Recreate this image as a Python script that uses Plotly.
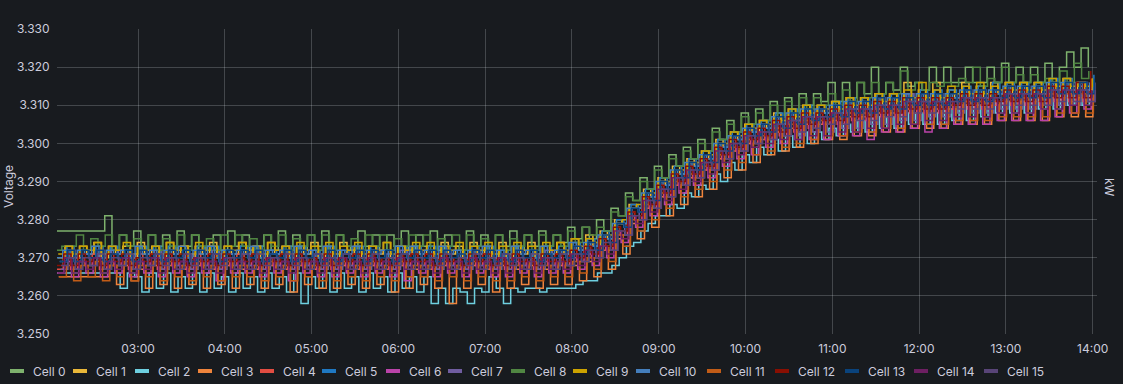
import pandas as pd
import plotly.graph_objects as go

# ---- data (cell voltages in mV, one sample every 5 minutes per cell) ----
CELL_0 = [3277, 3277,
    3277, 3277, 3277, 3277, 3277, 3281, 3272, 3276, 3273, 3277, 3272, 3276,
    3273, 3276, 3272, 3277, 3273, 3276, 3272, 3273, 3276, 3272, 3277, 3273,
    3276, 3272, 3273, 3276, 3272, 3277, 3273, 3276, 3272, 3276, 3273, 3277,
    3272, 3276, 3273, 3272, 3277, 3273, 3276, 3272, 3276, 3273, 3277, 3272,
    3276, 3273, 3277, 3272, 3276, 3273, 3272, 3277, 3273, 3276, 3272, 3276,
    3273, 3277, 3272, 3276, 3273, 3277, 3273, 3276, 3274, 3278, 3275, 3278,
    3275, 3280, 3277, 3283, 3281, 3287, 3285, 3291, 3288, 3294, 3291, 3297,
    3294, 3299, 3296, 3301, 3298, 3304, 3301, 3306, 3303, 3308, 3305, 3309,
    3306, 3311, 3307, 3312, 3308, 3313, 3310, 3313, 3311, 3316, 3311, 3316,
    3312, 3316, 3313, 3320, 3313, 3316, 3314, 3320, 3315, 3316, 3314, 3320,
    3316, 3320, 3316, 3316, 3320, 3316, 3316, 3320, 3316, 3321, 3316, 3320,
    3316, 3320, 3316, 3321, 3316, 3320, 3324, 3320, 3325, 3320]
CELL_1 = [3270, 3273,
    3270, 3273, 3271, 3274, 3270, 3273, 3271, 3273, 3270, 3274, 3271, 3273,
    3270, 3274, 3271, 3273, 3270, 3273, 3271, 3274, 3270, 3273, 3271, 3274,
    3271, 3273, 3270, 3274, 3271, 3273, 3270, 3273, 3271, 3274, 3270, 3273,
    3270, 3274, 3271, 3273, 3270, 3273, 3271, 3274, 3270, 3273, 3271, 3273,
    3271, 3273, 3270, 3274, 3271, 3273, 3270, 3274, 3271, 3273, 3270, 3274,
    3270, 3273, 3271, 3274, 3270, 3273, 3271, 3274, 3271, 3275, 3272, 3276,
    3273, 3277, 3275, 3280, 3279, 3284, 3283, 3288, 3286, 3291, 3289, 3294,
    3292, 3296, 3294, 3298, 3296, 3301, 3299, 3303, 3301, 3305, 3303, 3306,
    3304, 3308, 3305, 3309, 3306, 3310, 3307, 3310, 3308, 3311, 3308, 3312,
    3309, 3312, 3309, 3313, 3310, 3313, 3310, 3316, 3311, 3314, 3311, 3316,
    3311, 3314, 3312, 3316, 3312, 3315, 3312, 3316, 3313, 3316, 3313, 3316,
    3313, 3316, 3313, 3316, 3314, 3317, 3314, 3316, 3314, 3317]
CELL_2 = [3266, 3266,
    3266, 3266, 3266, 3266, 3266, 3266, 3266, 3262, 3266, 3265, 3261, 3266,
    3262, 3266, 3261, 3265, 3262, 3266, 3261, 3266, 3262, 3265, 3261, 3266,
    3262, 3265, 3261, 3266, 3262, 3265, 3261, 3266, 3258, 3265, 3262, 3266,
    3261, 3266, 3262, 3265, 3261, 3266, 3262, 3265, 3261, 3266, 3262, 3265,
    3261, 3265, 3258, 3262, 3258, 3262, 3261, 3258, 3262, 3261, 3265, 3262,
    3258, 3262, 3261, 3262, 3262, 3261, 3262, 3262, 3262, 3262, 3263, 3264,
    3264, 3266, 3266, 3268, 3270, 3273, 3274, 3277, 3279, 3281, 3281, 3284,
    3283, 3287, 3286, 3289, 3288, 3292, 3290, 3295, 3293, 3297, 3295, 3299,
    3297, 3301, 3298, 3302, 3299, 3303, 3300, 3303, 3301, 3304, 3302, 3305,
    3303, 3306, 3303, 3307, 3304, 3307, 3304, 3308, 3305, 3308, 3305, 3308,
    3305, 3309, 3306, 3310, 3306, 3310, 3307, 3311, 3308, 3311, 3308, 3311,
    3308, 3312, 3309, 3312, 3309, 3313, 3310, 3313, 3310, 3313]
CELL_3 = [3265, 3265,
    3265, 3265, 3265, 3265, 3265, 3268, 3263, 3268, 3264, 3267, 3262, 3268,
    3263, 3268, 3262, 3267, 3263, 3268, 3262, 3267, 3263, 3268, 3262, 3267,
    3263, 3267, 3262, 3268, 3263, 3267, 3261, 3268, 3263, 3267, 3262, 3268,
    3262, 3268, 3263, 3267, 3262, 3268, 3263, 3267, 3261, 3268, 3262, 3267,
    3263, 3267, 3262, 3268, 3258, 3267, 3262, 3268, 3263, 3267, 3261, 3268,
    3262, 3267, 3263, 3268, 3262, 3267, 3263, 3268, 3263, 3268, 3264, 3269,
    3265, 3272, 3267, 3275, 3271, 3279, 3275, 3283, 3278, 3286, 3281, 3289,
    3284, 3291, 3286, 3293, 3288, 3296, 3291, 3298, 3293, 3300, 3295, 3301,
    3297, 3303, 3298, 3304, 3299, 3305, 3300, 3305, 3301, 3306, 3301, 3307,
    3302, 3307, 3302, 3308, 3303, 3308, 3303, 3309, 3304, 3309, 3304, 3309,
    3304, 3309, 3305, 3310, 3305, 3310, 3305, 3310, 3306, 3311, 3306, 3311,
    3306, 3311, 3306, 3312, 3307, 3312, 3307, 3312, 3307, 3312]
CELL_4 = [3267, 3271,
    3267, 3270, 3268, 3271, 3267, 3271, 3268, 3270, 3267, 3271, 3268, 3271,
    3267, 3271, 3268, 3270, 3267, 3271, 3268, 3271, 3267, 3270, 3268, 3271,
    3268, 3271, 3267, 3270, 3268, 3271, 3267, 3271, 3268, 3270, 3267, 3271,
    3267, 3270, 3268, 3271, 3267, 3271, 3268, 3270, 3267, 3271, 3268, 3271,
    3268, 3271, 3267, 3271, 3268, 3270, 3267, 3271, 3268, 3271, 3267, 3270,
    3267, 3271, 3268, 3270, 3267, 3271, 3268, 3271, 3268, 3272, 3269, 3273,
    3270, 3275, 3272, 3278, 3276, 3282, 3280, 3286, 3283, 3289, 3286, 3292,
    3289, 3294, 3291, 3296, 3293, 3299, 3296, 3301, 3298, 3303, 3300, 3304,
    3301, 3306, 3302, 3307, 3303, 3308, 3304, 3308, 3305, 3309, 3305, 3310,
    3306, 3310, 3306, 3311, 3307, 3311, 3307, 3312, 3308, 3312, 3308, 3312,
    3308, 3312, 3309, 3313, 3309, 3313, 3309, 3313, 3310, 3314, 3310, 3314,
    3310, 3314, 3310, 3315, 3311, 3315, 3311, 3315, 3311, 3316]
CELL_5 = [3269, 3273,
    3269, 3272, 3270, 3273, 3269, 3273, 3270, 3272, 3269, 3273, 3270, 3273,
    3269, 3273, 3270, 3272, 3269, 3273, 3270, 3273, 3269, 3272, 3270, 3273,
    3270, 3273, 3269, 3272, 3270, 3273, 3269, 3273, 3270, 3272, 3269, 3273,
    3269, 3272, 3270, 3273, 3269, 3273, 3270, 3272, 3269, 3273, 3270, 3273,
    3270, 3273, 3269, 3273, 3270, 3272, 3269, 3273, 3270, 3273, 3269, 3272,
    3269, 3273, 3270, 3272, 3269, 3273, 3270, 3273, 3270, 3274, 3271, 3275,
    3272, 3277, 3274, 3280, 3278, 3284, 3282, 3288, 3285, 3291, 3288, 3294,
    3291, 3296, 3293, 3298, 3295, 3301, 3298, 3303, 3300, 3305, 3302, 3306,
    3303, 3308, 3304, 3309, 3305, 3310, 3306, 3310, 3307, 3311, 3307, 3312,
    3308, 3312, 3308, 3313, 3309, 3313, 3309, 3313, 3310, 3314, 3310, 3314,
    3310, 3314, 3311, 3315, 3311, 3315, 3311, 3316, 3312, 3316, 3312, 3316,
    3312, 3316, 3312, 3317, 3313, 3317, 3313, 3316, 3313, 3318]
CELL_6 = [3266, 3269,
    3265, 3269, 3266, 3270, 3265, 3269, 3266, 3270, 3265, 3269, 3266, 3270,
    3265, 3270, 3266, 3269, 3265, 3270, 3266, 3269, 3264, 3270, 3266, 3269,
    3266, 3269, 3265, 3270, 3266, 3269, 3264, 3270, 3266, 3269, 3265, 3270,
    3265, 3270, 3266, 3269, 3265, 3270, 3266, 3269, 3265, 3270, 3264, 3269,
    3266, 3269, 3265, 3270, 3266, 3269, 3265, 3270, 3266, 3269, 3265, 3270,
    3265, 3269, 3266, 3270, 3265, 3269, 3266, 3270, 3266, 3270, 3267, 3271,
    3268, 3273, 3270, 3277, 3274, 3281, 3278, 3285, 3281, 3288, 3284, 3291,
    3287, 3293, 3289, 3295, 3291, 3298, 3294, 3300, 3296, 3302, 3297, 3303,
    3299, 3304, 3300, 3306, 3301, 3307, 3301, 3307, 3301, 3308, 3302, 3308,
    3302, 3308, 3301, 3309, 3303, 3309, 3303, 3310, 3304, 3310, 3303, 3310,
    3304, 3310, 3305, 3311, 3305, 3311, 3305, 3311, 3306, 3312, 3306, 3312,
    3306, 3312, 3306, 3313, 3307, 3313, 3308, 3313, 3309, 3313]
CELL_7 = [3267, 3272,
    3267, 3271, 3268, 3272, 3267, 3272, 3268, 3271, 3267, 3272, 3268, 3272,
    3267, 3272, 3268, 3271, 3267, 3272, 3268, 3272, 3267, 3271, 3268, 3272,
    3268, 3272, 3267, 3271, 3268, 3272, 3267, 3272, 3268, 3271, 3267, 3272,
    3267, 3271, 3268, 3272, 3267, 3272, 3268, 3271, 3267, 3272, 3268, 3272,
    3268, 3272, 3267, 3272, 3268, 3271, 3267, 3272, 3268, 3272, 3267, 3271,
    3267, 3272, 3268, 3271, 3267, 3272, 3268, 3272, 3268, 3273, 3269, 3274,
    3270, 3276, 3272, 3279, 3276, 3283, 3280, 3287, 3283, 3290, 3286, 3293,
    3289, 3295, 3291, 3297, 3293, 3300, 3296, 3302, 3298, 3304, 3300, 3305,
    3301, 3307, 3302, 3308, 3302, 3309, 3303, 3309, 3303, 3310, 3304, 3311,
    3304, 3311, 3305, 3312, 3305, 3312, 3306, 3313, 3306, 3313, 3307, 3313,
    3307, 3313, 3308, 3314, 3308, 3314, 3308, 3314, 3309, 3315, 3309, 3315,
    3309, 3315, 3310, 3316, 3310, 3316, 3310, 3316, 3311, 3316]
CELL_8 = [3272, 3273,
    3273, 3276, 3272, 3275, 3273, 3276, 3272, 3276, 3273, 3275, 3272, 3276,
    3272, 3275, 3273, 3276, 3272, 3276, 3273, 3275, 3272, 3276, 3273, 3276,
    3273, 3275, 3272, 3276, 3273, 3276, 3272, 3275, 3273, 3276, 3272, 3276,
    3272, 3276, 3273, 3275, 3272, 3276, 3273, 3276, 3272, 3275, 3273, 3276,
    3273, 3276, 3272, 3275, 3273, 3276, 3272, 3276, 3273, 3275, 3272, 3276,
    3272, 3275, 3273, 3276, 3272, 3276, 3273, 3276, 3273, 3277, 3274, 3278,
    3276, 3278, 3277, 3282, 3281, 3286, 3285, 3290, 3288, 3293, 3291, 3296,
    3294, 3298, 3296, 3300, 3298, 3303, 3301, 3305, 3303, 3307, 3305, 3308,
    3306, 3310, 3307, 3311, 3308, 3312, 3309, 3312, 3310, 3313, 3310, 3314,
    3311, 3316, 3312, 3316, 3313, 3316, 3313, 3319, 3314, 3316, 3314, 3316,
    3315, 3316, 3315, 3317, 3316, 3320, 3315, 3317, 3316, 3320, 3316, 3318,
    3316, 3318, 3316, 3317, 3316, 3319, 3316, 3321, 3317, 3319]
CELL_9 = [3271, 3273,
    3271, 3273, 3272, 3274, 3271, 3273, 3272, 3274, 3271, 3273, 3272, 3273,
    3271, 3274, 3272, 3273, 3271, 3274, 3272, 3273, 3271, 3273, 3272, 3274,
    3272, 3273, 3271, 3274, 3272, 3273, 3271, 3274, 3272, 3273, 3271, 3274,
    3271, 3273, 3272, 3274, 3271, 3273, 3272, 3274, 3271, 3273, 3272, 3274,
    3272, 3274, 3271, 3273, 3272, 3274, 3271, 3273, 3272, 3274, 3271, 3273,
    3271, 3274, 3272, 3273, 3271, 3274, 3272, 3274, 3272, 3275, 3273, 3275,
    3274, 3276, 3276, 3279, 3280, 3283, 3284, 3287, 3287, 3290, 3290, 3293,
    3293, 3295, 3295, 3298, 3297, 3300, 3300, 3303, 3302, 3305, 3304, 3306,
    3305, 3307, 3306, 3309, 3307, 3310, 3308, 3310, 3309, 3311, 3309, 3312,
    3310, 3312, 3310, 3313, 3311, 3313, 3311, 3314, 3312, 3316, 3312, 3314,
    3312, 3315, 3313, 3315, 3313, 3316, 3313, 3315, 3314, 3316, 3314, 3316,
    3314, 3316, 3314, 3317, 3315, 3317, 3315, 3316, 3315, 3317]
CELL_10 = [3270, 3272,
    3270, 3272, 3271, 3273, 3270, 3272, 3271, 3272, 3270, 3273, 3271, 3272,
    3270, 3272, 3271, 3273, 3270, 3272, 3271, 3273, 3270, 3272, 3271, 3272,
    3271, 3273, 3270, 3272, 3271, 3272, 3270, 3273, 3271, 3272, 3270, 3273,
    3270, 3272, 3271, 3273, 3270, 3272, 3271, 3272, 3270, 3273, 3271, 3273,
    3271, 3272, 3270, 3273, 3271, 3272, 3270, 3272, 3271, 3273, 3270, 3272,
    3270, 3273, 3271, 3272, 3270, 3273, 3271, 3272, 3271, 3274, 3272, 3274,
    3273, 3276, 3275, 3279, 3279, 3283, 3283, 3287, 3286, 3290, 3289, 3293,
    3292, 3295, 3294, 3297, 3296, 3300, 3299, 3302, 3301, 3304, 3303, 3305,
    3304, 3307, 3305, 3308, 3306, 3309, 3307, 3309, 3308, 3310, 3308, 3311,
    3309, 3311, 3309, 3312, 3310, 3312, 3310, 3313, 3311, 3313, 3311, 3313,
    3311, 3313, 3312, 3314, 3312, 3314, 3312, 3314, 3313, 3315, 3313, 3315,
    3313, 3315, 3313, 3316, 3314, 3316, 3314, 3316, 3314, 3316]
CELL_11 = [3265, 3268,
    3264, 3268, 3265, 3269, 3264, 3268, 3265, 3269, 3264, 3268, 3265, 3269,
    3264, 3269, 3265, 3268, 3264, 3269, 3265, 3268, 3264, 3269, 3265, 3268,
    3265, 3268, 3264, 3269, 3265, 3268, 3264, 3269, 3265, 3268, 3264, 3269,
    3264, 3269, 3265, 3268, 3264, 3269, 3265, 3268, 3264, 3269, 3265, 3268,
    3265, 3268, 3264, 3269, 3265, 3268, 3264, 3269, 3265, 3268, 3264, 3269,
    3264, 3268, 3265, 3269, 3264, 3268, 3265, 3269, 3265, 3269, 3266, 3270,
    3267, 3273, 3269, 3276, 3273, 3280, 3277, 3284, 3280, 3287, 3283, 3290,
    3286, 3292, 3288, 3294, 3290, 3297, 3293, 3299, 3295, 3301, 3297, 3302,
    3298, 3304, 3299, 3305, 3300, 3306, 3301, 3306, 3302, 3307, 3302, 3308,
    3303, 3308, 3303, 3309, 3304, 3309, 3304, 3310, 3305, 3310, 3305, 3310,
    3305, 3310, 3306, 3311, 3306, 3311, 3306, 3311, 3307, 3312, 3307, 3312,
    3307, 3312, 3307, 3313, 3308, 3313, 3308, 3313, 3308, 3313]
CELL_12 = [3268, 3271,
    3268, 3271, 3269, 3270, 3268, 3271, 3269, 3271, 3268, 3270, 3269, 3271,
    3268, 3271, 3269, 3271, 3268, 3270, 3269, 3271, 3268, 3271, 3269, 3270,
    3269, 3271, 3268, 3270, 3269, 3271, 3268, 3271, 3269, 3270, 3268, 3271,
    3268, 3270, 3269, 3271, 3268, 3271, 3269, 3270, 3268, 3271, 3269, 3271,
    3269, 3271, 3268, 3271, 3269, 3270, 3268, 3271, 3269, 3271, 3268, 3270,
    3268, 3271, 3269, 3270, 3268, 3271, 3269, 3271, 3269, 3272, 3270, 3273,
    3271, 3275, 3273, 3278, 3277, 3282, 3281, 3286, 3284, 3289, 3287, 3292,
    3290, 3294, 3292, 3296, 3294, 3299, 3297, 3301, 3299, 3303, 3301, 3304,
    3302, 3306, 3303, 3307, 3304, 3308, 3305, 3308, 3306, 3309, 3306, 3310,
    3307, 3310, 3307, 3311, 3308, 3311, 3308, 3312, 3309, 3312, 3309, 3312,
    3309, 3312, 3310, 3313, 3310, 3313, 3310, 3313, 3311, 3314, 3311, 3314,
    3311, 3314, 3311, 3315, 3312, 3315, 3312, 3316, 3312, 3319]
CELL_13 = [3269, 3272,
    3269, 3272, 3270, 3272, 3269, 3271, 3270, 3272, 3269, 3272, 3270, 3271,
    3269, 3272, 3270, 3272, 3269, 3272, 3270, 3271, 3269, 3272, 3270, 3272,
    3270, 3272, 3269, 3271, 3270, 3272, 3269, 3272, 3270, 3271, 3269, 3272,
    3269, 3271, 3270, 3272, 3269, 3272, 3270, 3272, 3269, 3271, 3270, 3272,
    3270, 3272, 3269, 3272, 3270, 3271, 3269, 3272, 3270, 3272, 3269, 3271,
    3269, 3272, 3270, 3272, 3269, 3271, 3270, 3272, 3270, 3273, 3271, 3274,
    3272, 3276, 3274, 3279, 3278, 3283, 3282, 3287, 3285, 3290, 3288, 3293,
    3291, 3295, 3293, 3297, 3295, 3300, 3298, 3302, 3300, 3304, 3302, 3305,
    3303, 3307, 3304, 3308, 3305, 3309, 3306, 3309, 3307, 3310, 3307, 3311,
    3308, 3311, 3308, 3312, 3309, 3312, 3309, 3312, 3310, 3313, 3310, 3313,
    3310, 3313, 3311, 3314, 3311, 3314, 3311, 3314, 3312, 3315, 3312, 3315,
    3312, 3315, 3312, 3316, 3313, 3316, 3313, 3316, 3313, 3317]
CELL_14 = [3266, 3270,
    3266, 3269, 3267, 3270, 3266, 3269, 3267, 3270, 3266, 3269, 3267, 3270,
    3266, 3270, 3267, 3269, 3266, 3270, 3267, 3269, 3266, 3270, 3267, 3269,
    3267, 3269, 3266, 3270, 3267, 3269, 3266, 3270, 3267, 3269, 3266, 3270,
    3266, 3270, 3267, 3269, 3266, 3270, 3267, 3269, 3266, 3270, 3267, 3269,
    3267, 3269, 3266, 3270, 3267, 3269, 3266, 3270, 3267, 3269, 3266, 3270,
    3266, 3270, 3267, 3269, 3266, 3270, 3267, 3269, 3267, 3271, 3268, 3272,
    3269, 3273, 3271, 3277, 3275, 3281, 3279, 3285, 3282, 3288, 3285, 3291,
    3288, 3293, 3290, 3295, 3292, 3298, 3295, 3300, 3297, 3302, 3299, 3303,
    3300, 3305, 3301, 3306, 3301, 3307, 3302, 3307, 3302, 3308, 3303, 3309,
    3303, 3309, 3304, 3310, 3304, 3310, 3305, 3311, 3305, 3311, 3306, 3311,
    3306, 3311, 3307, 3312, 3307, 3312, 3307, 3312, 3308, 3313, 3308, 3313,
    3308, 3313, 3309, 3314, 3309, 3314, 3310, 3314, 3310, 3314]
CELL_15 = [3268, 3270,
    3267, 3270, 3268, 3271, 3267, 3270, 3268, 3271, 3267, 3270, 3268, 3271,
    3268, 3270, 3267, 3271, 3268, 3270, 3267, 3271, 3268, 3270, 3267, 3271,
    3267, 3271, 3268, 3270, 3267, 3271, 3268, 3270, 3267, 3271, 3268, 3270,
    3268, 3271, 3267, 3270, 3268, 3271, 3267, 3270, 3268, 3271, 3267, 3270,
    3267, 3270, 3268, 3271, 3267, 3270, 3268, 3271, 3267, 3270, 3268, 3271,
    3268, 3270, 3267, 3271, 3268, 3270, 3267, 3271, 3268, 3271, 3269, 3272,
    3270, 3274, 3272, 3277, 3276, 3281, 3280, 3285, 3283, 3288, 3286, 3291,
    3289, 3293, 3291, 3295, 3293, 3298, 3296, 3300, 3298, 3302, 3300, 3303,
    3301, 3305, 3302, 3306, 3303, 3307, 3304, 3307, 3305, 3308, 3305, 3309,
    3306, 3309, 3306, 3310, 3307, 3310, 3307, 3311, 3308, 3311, 3308, 3311,
    3308, 3311, 3309, 3312, 3309, 3312, 3309, 3312, 3310, 3313, 3310, 3313,
    3310, 3313, 3310, 3314, 3311, 3314, 3311, 3314, 3311, 3314]

SERIES_NAMES = ["Cell 0", "Cell 1", "Cell 2", "Cell 3", "Cell 4", "Cell 5", "Cell 6", "Cell 7",
                "Cell 8", "Cell 9", "Cell 10", "Cell 11", "Cell 12", "Cell 13", "Cell 14", "Cell 15"]
SERIES_VALUES = [CELL_0, CELL_1, CELL_2, CELL_3, CELL_4, CELL_5, CELL_6, CELL_7,
                 CELL_8, CELL_9, CELL_10, CELL_11, CELL_12, CELL_13, CELL_14, CELL_15]
# each cell is polled at its own moment inside the 5-minute cycle (seconds after cycle start)
POLL_OFFSET_S = [0, 150, 40, 190, 80, 230, 120, 270, 20, 170, 60, 210, 100, 250, 140, 290]
COLORS = ["#7EB26D", "#EAB839", "#6ED0E0", "#EF843C", "#E24D42", "#1F78C1", "#BA43A9", "#705DA0",
          "#508642", "#CCA300", "#447EBC", "#C15C17", "#890F02", "#0A437C", "#6D1F62", "#584477"]
START = "2024-01-01 02:02"

# ---- figure ----
BG = "#181b1f"
TXT = "#ccccdc"
GRID = "rgba(240,250,255,0.20)"
FONT = "Inter, Roboto, sans-serif"

W, H = 1123, 384
ML, MR, MT, MB = 57, 26, 29, 50
PW, PH = W - ML - MR, H - MT - MB

cycle_starts = pd.date_range(START, periods=200, freq="5min")

fig = go.Figure()
for name, vals, col, off in zip(SERIES_NAMES, SERIES_VALUES, COLORS, POLL_OFFSET_S):
    t = cycle_starts[:len(vals)] + pd.Timedelta(seconds=off)
    fig.add_trace(go.Scatter(
        x=t, y=[v / 1000 for v in vals], name=name, mode="lines",
        line=dict(color=col, width=1.5, shape="hv"), showlegend=False))


def px_x(px):
    return (px - ML) / PW


def px_y(py):
    return (H - MB - py) / PH


shapes = []
annotations = []
legend_sym_x = [10, 73, 135, 198, 260, 322, 386, 448, 511, 573, 636, 707, 775, 845, 914, 984]
leg_y = 371
for name, col, sx in zip(SERIES_NAMES, COLORS, legend_sym_x):
    shapes.append(dict(type="line", xref="paper", yref="paper",
                       x0=px_x(sx), x1=px_x(sx + 14), y0=px_y(leg_y), y1=px_y(leg_y),
                       line=dict(color=col, width=4)))
    annotations.append(dict(text=name, xref="paper", yref="paper", x=px_x(sx + 21), y=px_y(leg_y),
                            xanchor="left", yanchor="middle", showarrow=False,
                            font=dict(family=FONT, size=12, color=TXT)))

annotations.append(dict(text="Voltage", xref="paper", yref="paper", x=px_x(8), y=px_y(187),
                        xanchor="center", yanchor="middle", textangle=-90, showarrow=False,
                        font=dict(family=FONT, size=12, color=TXT)))
annotations.append(dict(text="kW", xref="paper", yref="paper", x=px_x(1110), y=px_y(187),
                        xanchor="center", yanchor="middle", textangle=90, showarrow=False,
                        font=dict(family=FONT, size=12, color=TXT)))

fig.update_layout(
    width=W, height=H,
    margin=dict(l=ML, r=MR, t=MT, b=MB),
    paper_bgcolor=BG, plot_bgcolor=BG,
    font=dict(family=FONT, size=12, color=TXT),
    showlegend=False,
    shapes=shapes, annotations=annotations,
    xaxis=dict(
        range=["2024-01-01 02:04", "2024-01-01 14:03"],
        tickformat="%H:%M", dtick=3600000, tick0="2024-01-01 00:00",
        showgrid=True, gridcolor=GRID, gridwidth=1, zeroline=False, showline=False,
        ticks="outside", ticklen=4, tickcolor="rgba(0,0,0,0)",
        tickfont=dict(family=FONT, size=12, color=TXT),
    ),
    yaxis=dict(
        range=[3.25, 3.33], dtick=0.01, tick0=3.25, tickformat=".3f",
        showgrid=True, gridcolor=GRID, gridwidth=1, zeroline=False, showline=False,
        ticks="outside", ticklen=4, tickcolor="rgba(0,0,0,0)",
        tickfont=dict(family=FONT, size=12, color=TXT),
    ),
)

fig.write_html("out.html", config={"displayModeBar": False},
               post_script="document.body.style.margin='0';document.body.style.background='#181b1f';")
